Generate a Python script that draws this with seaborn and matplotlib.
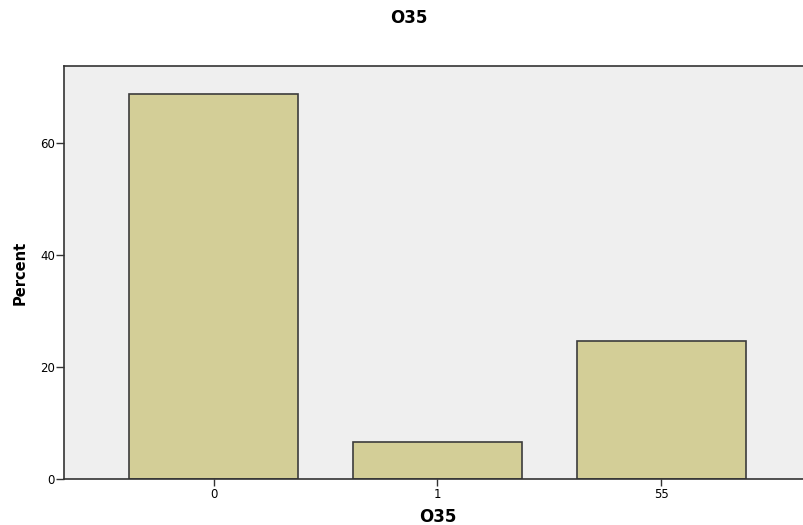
import matplotlib
matplotlib.use("Agg")
import matplotlib.pyplot as plt
import seaborn as sns
import pandas as pd

# Values
categories = ["0", "1", "55"]
percent = [68.8, 6.6, 24.6]

sns.set_style("white")
plt.rcParams['font.family'] = ['DejaVu Sans']

df = pd.DataFrame({"O35": categories, "Percent": percent})

fig = plt.figure(figsize=(8.04, 5.25), dpi=100)
ax = fig.add_axes([64 / 804, 46 / 525, 747 / 804, 413 / 525])
ax.set_facecolor("#EFEFEF")

sns.barplot(data=df, x="O35", y="Percent", color="#D3CE97", saturation=1,
            width=0.755, edgecolor="#3C3C3C", linewidth=1.2, ax=ax)

ax.set_xlim(-0.668, 2.668)
ax.set_ylim(0, 73.75)
ax.set_yticks([0, 20, 40, 60])

for side in ["left", "top", "bottom"]:
    ax.spines[side].set_color("#333333")
    ax.spines[side].set_linewidth(1.2)
ax.spines["right"].set_visible(False)

ax.tick_params(axis="y", length=5.5, width=1, color="#333333", labelsize=8.5,
               labelcolor="black", pad=1, left=True)
ax.tick_params(axis="x", length=5, width=1, color="#333333", labelsize=8.5,
               labelcolor="black", pad=1.5, bottom=True)

ax.set_xlabel("O35", fontsize=12, fontweight="bold", color="black", va="center")
ax.set_ylabel("Percent", fontsize=10.5, fontweight="bold", color="black", va="center")
ax.xaxis.set_label_coords(0.5, (479 - 517) / 413)
ax.yaxis.set_label_coords((20 - 64) / 747, 0.5)
fig.text(409 / 804, 1 - 18 / 525, "O35", ha="center", va="center",
         fontsize=12, fontweight="bold", color="black")

fig.savefig("out.png", dpi=100)
